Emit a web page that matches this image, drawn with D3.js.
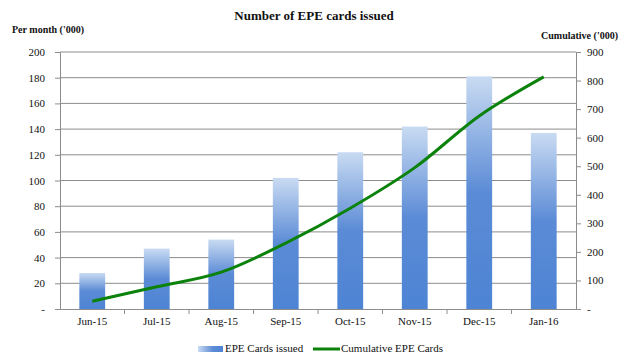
<!DOCTYPE html>
<html>
<head>
<meta charset="utf-8">
<script src="https://cdn.jsdelivr.net/npm/d3@7"></script>
<style>
  body { margin: 0; background: #fff; }
  text { font-family: "Liberation Serif", "DejaVu Serif", serif; fill: #111; }
</style>
</head>
<body>
<div id="chart"></div>
<script>
const months = ['Jun-15', 'Jul-15', 'Aug-15', 'Sep-15', 'Oct-15', 'Nov-15', 'Dec-15', 'Jan-16'];
const issued = [28, 47, 54, 102, 122, 142, 181, 137];
const cumulative = [27, 78, 129, 231, 353, 495, 676, 813];
const leftTicks = [0, 20, 40, 60, 80, 100, 120, 140, 160, 180, 200];
const rightTicks = [0, 100, 200, 300, 400, 500, 600, 700, 800, 900];

const w = 621, h = 363;
const m = {left: 60, right: 45, top: 52, bottom: 54};
const svg = d3.select('#chart').append('svg')
              .attr('width', w)
              .attr('height', h);

const x = d3.scaleBand().domain(months).range([m.left, w - m.right]).paddingInner(0.6).paddingOuter(0.3);
const xo = d3.scaleBand().domain(months).range([m.left, w - m.right]);
const yL = d3.scaleLinear().domain([0, 200]).range([h - m.bottom, m.top]);
const yR = d3.scaleLinear().domain([0, 900]).range([h - m.bottom, m.top]);

const defs = svg.append('defs');
const g1 = defs.append('linearGradient').attr('id', 'barGrad')
               .attr('x1', 0).attr('y1', 0).attr('x2', 0).attr('y2', 1);
g1.append('stop').attr('offset', '0%').attr('stop-color', '#c9dbf2');
g1.append('stop').attr('offset', '50%').attr('stop-color', '#5b8bd6');
g1.append('stop').attr('offset', '100%').attr('stop-color', '#4d84d4');
const g2 = defs.append('linearGradient').attr('id', 'legGrad')
               .attr('x1', 0).attr('y1', 0).attr('x2', 1).attr('y2', 0);
g2.append('stop').attr('offset', '0%').attr('stop-color', '#c9dbf2');
g2.append('stop').attr('offset', '60%').attr('stop-color', '#5b8bd6');
g2.append('stop').attr('offset', '100%').attr('stop-color', '#4d84d4');

// gridlines
svg.append('g').selectAll('line')
   .data(leftTicks.slice(1))
   .enter().append('line')
   .attr('x1', m.left).attr('x2', w - m.right)
   .attr('y1', d => yL(d)).attr('y2', d => yL(d))
   .attr('stroke', '#8c8c8c').attr('stroke-width', 1);

// left axis
const axL = svg.append('g').attr('transform', `translate(${m.left},0)`)
   .call(d3.axisLeft(yL).tickValues(leftTicks).tickSize(5).tickPadding(10)
          .tickFormat(d => d === 0 ? '-' : d));
// right axis
const axR = svg.append('g').attr('transform', `translate(${w - m.right},0)`)
   .call(d3.axisRight(yR).tickValues(rightTicks).tickSize(5).tickPadding(6)
          .tickFormat(d => d === 0 ? '-' : d));
// bottom axis
const axB = svg.append('g').attr('transform', `translate(0,${h - m.bottom})`)
   .call(d3.axisBottom(x).tickSize(0).tickPadding(8));
axB.selectAll('line.sep')
   .data(months.slice(1))
   .enter().append('line').attr('class', 'sep')
   .attr('x1', d => xo(d)).attr('x2', d => xo(d))
   .attr('y1', 0).attr('y2', 5);

[axL, axR, axB].forEach(a => {
  a.attr('font-family', null).attr('font-size', null);
  a.select('.domain').attr('stroke', '#8c8c8c');
  a.selectAll('line').attr('stroke', '#8c8c8c');
  a.selectAll('text').style('font-family', '"Liberation Serif", serif')
   .style('font-size', '11px').attr('fill', '#111');
});

// bars
svg.append('g').selectAll('rect')
   .data(issued)
   .enter().append('rect')
   .attr('x', (d, i) => x(months[i]))
   .attr('width', x.bandwidth())
   .attr('y', d => yL(d))
   .attr('height', d => yL(0) - yL(d))
   .attr('fill', 'url(#barGrad)');

// cumulative line
const line = d3.line()
   .x((d, i) => x(months[i]) + x.bandwidth() / 2)
   .y(d => yR(d))
   .curve(d3.curveMonotoneX);
svg.append('path')
   .datum(cumulative)
   .attr('d', line)
   .attr('fill', 'none')
   .attr('stroke', '#0b820b')
   .attr('stroke-width', 3);

// titles
svg.append('text').attr('x', 314).attr('y', 20).attr('text-anchor', 'middle')
   .style('font-size', '13px').style('font-weight', 'bold').text('Number of EPE cards issued');
svg.append('text').attr('x', 12).attr('y', 33)
   .style('font-size', '10px').style('font-weight', 'bold').text("Per month ('000)");
svg.append('text').attr('x', 618).attr('y', 39).attr('text-anchor', 'end')
   .style('font-size', '10px').style('font-weight', 'bold').text("Cumulative ('000)");

// legend
const leg = svg.append('g').attr('transform', 'translate(0,351)');
leg.append('rect').attr('x', 198).attr('y', -5).attr('width', 25).attr('height', 6)
   .attr('fill', 'url(#legGrad)');
leg.append('text').attr('x', 225).attr('y', 1).style('font-size', '11px').text('EPE Cards issued');
leg.append('line').attr('x1', 313).attr('x2', 340).attr('y1', -2).attr('y2', -2)
   .attr('stroke', '#0b820b').attr('stroke-width', 3);
leg.append('text').attr('x', 341).attr('y', 1).style('font-size', '11px').text('Cumulative EPE Cards');
</script>
</body>
</html>
